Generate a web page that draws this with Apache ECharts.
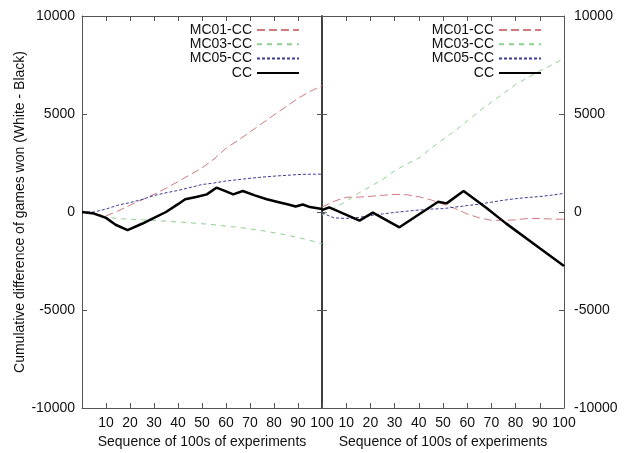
<!DOCTYPE html>
<html>
<head>
<meta charset="utf-8">
<script src="https://cdn.jsdelivr.net/npm/echarts@6/dist/echarts.min.js"></script>
<style>
  html, body { margin: 0; padding: 0; background: #fff; }
  #main { width: 632px; height: 453px; }
</style>
</head>
<body>
<div id="main"></div>
<script>
// sampled x positions (sequence of 100s of experiments)
const xSteps = [0, 5, 10, 15, 20, 25, 30, 35, 40, 45, 50, 55, 60, 65, 70, 75, 80, 85, 90, 95, 100];

// left panel
const leftMC01 = [0, -80, -200, 50, 350, 620, 900, 1210, 1550, 1900, 2250, 2700, 3250, 3650, 4080, 4520, 4950, 5370, 5800, 6150, 6450];
const leftMC03 = [0, -50, -250, -340, -370, -400, -430, -470, -510, -550, -600, -650, -720, -780, -860, -950, -1060, -1170, -1300, -1450, -1620];
const leftMC05 = [0, 0, 150, 350, 480, 640, 840, 980, 1100, 1250, 1400, 1480, 1580, 1650, 1720, 1780, 1830, 1870, 1910, 1930, 1930];
const leftCCx = [0, 5, 10, 14, 19, 25, 30, 35, 40, 43, 48, 52, 56, 60, 63, 67, 72, 77, 82, 86, 89, 92, 95, 100];
const leftCC = [0, -80, -300, -650, -920, -600, -300, 0, 400, 650, 780, 900, 1240, 1050, 900, 1070, 850, 650, 500, 380, 280, 380, 250, 150];

// right panel
const rightMC01 = [250, 550, 750, 760, 800, 850, 900, 880, 780, 620, 400, 180, -100, -300, -420, -430, -400, -330, -330, -360, -370];
const rightMC03 = [-150, 200, 550, 950, 1300, 1650, 2100, 2450, 2750, 3250, 3700, 4150, 4650, 5150, 5600, 6050, 6500, 6850, 7200, 7500, 7850];
const rightMC05 = [-50, -300, -330, -280, -180, -100, -20, 40, 100, 150, 170, 250, 330, 400, 500, 600, 680, 740, 790, 860, 950];
const rightCCx = [0, 3, 15.5, 21, 32, 48, 51.5, 58.5, 68, 76, 90, 100];
const rightCC = [100, 240, -440, -30, -780, 525, 440, 1070, 200, -580, -1850, -2750];

const names = ["MC01-CC", "MC03-CC", "MC05-CC", "CC"];

const FONT = "Liberation Sans, Arial, sans-serif";
const BORDER = "#555";

function pairs(xs, ys) {
    return xs.map((x, i) => [x, ys[i]]);
}

function xAxes(gi) {
    return [
        {
            gridIndex: gi, type: "value", min: 0, max: 100, interval: 10,
            position: "bottom",
            name: "Sequence of 100s of experiments",
            nameLocation: "middle", nameGap: 27,
            nameTextStyle: { fontFamily: FONT, fontSize: 14, color: "#111" },
            axisLine: { show: true, onZero: false, lineStyle: { color: BORDER } },
            axisTick: { inside: true, length: 5, lineStyle: { color: BORDER } },
            axisLabel: {
                fontFamily: FONT, fontSize: 14, color: "#111", margin: 8,
                formatter: (v) => (v === 0 ? "" : String(v)),
            },
            splitLine: { show: false },
        },
        {
            gridIndex: gi, type: "value", min: 0, max: 100, interval: 10,
            position: "top",
            axisLine: { show: true, onZero: false, lineStyle: { color: BORDER } },
            axisTick: { inside: true, length: 5, lineStyle: { color: BORDER } },
            axisLabel: { show: false },
            splitLine: { show: false },
        },
    ];
}

function yAxes(gi, labelSide) {
    const other = labelSide === "left" ? "right" : "left";
    return [
        {
            gridIndex: gi, type: "value", min: -10000, max: 10000, interval: 5000,
            position: labelSide,
            name: labelSide === "left" ? "Cumulative difference of games won (White - Black)" : "",
            nameLocation: "middle", nameGap: 48,
            nameTextStyle: { fontFamily: FONT, fontSize: 14, color: "#111" },
            axisLine: { show: true, onZero: false, lineStyle: { color: BORDER } },
            axisTick: { inside: true, length: 5, lineStyle: { color: BORDER } },
            axisLabel: {
                fontFamily: FONT, fontSize: 14, color: "#111",
                margin: labelSide === "left" ? 7 : 10,
                formatter: (v) => String(v),
            },
            splitLine: { show: false },
        },
        {
            gridIndex: gi, type: "value", min: -10000, max: 10000, interval: 5000,
            position: other,
            axisLine: { show: true, onZero: false, lineStyle: { color: "#333", width: 1.5 } },
            axisTick: { inside: true, length: 5, lineStyle: { color: BORDER } },
            axisLabel: { show: false },
            splitLine: { show: false },
        },
    ];
}

const styles = {
    "MC01-CC": { color: "#d27a80", width: 1, type: [8, 4] },
    "MC03-CC": { color: "#8fd08f", width: 1, type: [5, 5] },
    "MC05-CC": { color: "#3c3c96", width: 1, type: [3, 2] },
    "CC": { color: "#000", width: 2.5, type: "solid" },
};

function line(name, data, xi, yi) {
    const s = styles[name];
    return {
        name: name, type: "line", xAxisIndex: xi, yAxisIndex: yi,
        data: data, showSymbol: false, symbol: "none", animation: false,
        lineStyle: { color: s.color, width: s.width, type: s.type },
        itemStyle: { color: s.color },
        z: name === "CC" ? 5 : 3,
    };
}

function legend(right) {
    return {
        data: names, orient: "vertical", align: "right",
        right: right, top: 18, itemGap: 0.3, itemWidth: 42, itemHeight: 14,
        itemStyle: { opacity: 0 },
        textStyle: { fontFamily: FONT, fontSize: 14, color: "#111", lineHeight: 14 },
        selectedMode: false,
    };
}

const option = {
    backgroundColor: "#fff",
    animation: false,
    grid: [
        { left: 82, top: 16, width: 240, height: 392, outerBoundsMode: "none" },
        { left: 322, top: 16, width: 242, height: 392, outerBoundsMode: "none" },
    ],
    xAxis: [...xAxes(0), ...xAxes(1)],
    yAxis: [...yAxes(0, "left"), ...yAxes(1, "right")],
    legend: [legend(327), legend(85)],
    series: [
        line("MC01-CC", pairs(xSteps, leftMC01), 0, 0),
        line("MC03-CC", pairs(xSteps, leftMC03), 0, 0),
        line("MC05-CC", pairs(xSteps, leftMC05), 0, 0),
        line("CC", pairs(leftCCx, leftCC), 0, 0),
        line("MC01-CC", pairs(xSteps, rightMC01), 2, 2),
        line("MC03-CC", pairs(xSteps, rightMC03), 2, 2),
        line("MC05-CC", pairs(xSteps, rightMC05), 2, 2),
        line("CC", pairs(rightCCx, rightCC), 2, 2),
    ],
};

const myChart = echarts.init(document.getElementById("main"), null, { renderer: "canvas" });
myChart.setOption(option);
</script>
</body>
</html>
